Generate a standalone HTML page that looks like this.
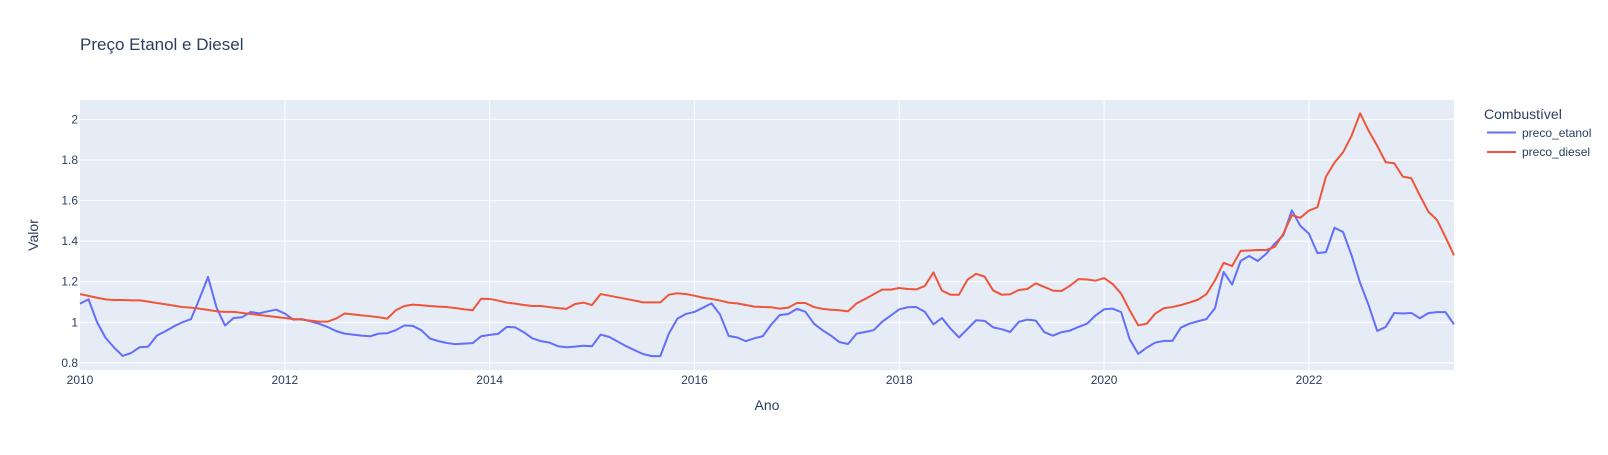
<!DOCTYPE html>
<html><head><meta charset="utf-8">
<style>
body{margin:0;background:#fff;font-family:"Liberation Sans",sans-serif;}
svg text{font-family:"Liberation Sans",sans-serif;fill:#2a3f5f;}
</style></head>
<body>
<svg id="chart" width="1608" height="450" xmlns="http://www.w3.org/2000/svg">
<rect width="1608" height="450" fill="#fff"/>
<text x="80" y="50" font-size="17">Preço Etanol e Diesel</text>
<rect x="80" y="100" width="1374" height="270" fill="#e5ecf6"/>
<g id="grid"></g>
<g id="series"></g>
<g id="ticks"></g>
<text x="767" y="410" font-size="14" text-anchor="middle">Ano</text>
<text transform="translate(38,235) rotate(-90)" font-size="14" text-anchor="middle">Valor</text>
<g>
<text x="1484" y="119" font-size="14">Combustível</text>
<g>
<line x1="1487" y1="132.5" x2="1516" y2="132.5" stroke="#636efa" stroke-width="2"/>
<text x="1522" y="137" font-size="12">preco_etanol</text></g>
<g>
<line x1="1487" y1="152" x2="1516" y2="152" stroke="#EF553B" stroke-width="2"/>
<text x="1522" y="156" font-size="12">preco_diesel</text></g>
</g>
</svg>
<script>
const startYear = 2010;
const xTickYears = [2010,2012,2014,2016,2018,2020,2022];
const yTicks = [0.8,1,1.2,1.4,1.6,1.8,2];
const yTickLabels = ["0.8","1","1.2","1.4","1.6","1.8","2"];
const etanol = [1.092,1.113,1.0,0.923,0.875,0.834,0.849,0.877,0.88,0.934,0.956,0.98,
1.0,1.015,1.116,1.223,1.072,0.984,1.021,1.025,1.051,1.044,1.054,1.062,
1.043,1.013,1.016,1.005,0.993,0.977,0.957,0.944,0.939,0.934,0.931,0.944,
0.946,0.961,0.984,0.982,0.961,0.92,0.907,0.898,0.892,0.895,0.897,0.931,
0.938,0.943,0.977,0.975,0.951,0.921,0.907,0.9,0.882,0.877,0.88,0.884,
0.882,0.939,0.928,0.905,0.882,0.862,0.843,0.833,0.833,0.944,1.018,1.041,
1.051,1.072,1.093,1.038,0.933,0.925,0.907,0.921,0.931,0.989,1.036,1.041,
1.066,1.052,0.993,0.961,0.934,0.902,0.893,0.944,0.952,0.961,1.003,1.033,
1.064,1.074,1.075,1.051,0.99,1.021,0.969,0.925,0.967,1.01,1.007,0.975,
0.966,0.952,1.002,1.013,1.008,0.951,0.934,0.951,0.959,0.977,0.993,1.034,
1.064,1.067,1.05,0.916,0.844,0.875,0.9,0.908,0.908,0.974,0.993,1.005,
1.016,1.07,1.248,1.186,1.302,1.327,1.302,1.338,1.388,1.429,1.552,1.475,
1.437,1.341,1.346,1.466,1.445,1.33,1.194,1.084,0.957,0.977,1.046,1.043,
1.046,1.02,1.045,1.05,1.05,0.99];
const diesel = [1.139,1.13,1.121,1.113,1.11,1.11,1.108,1.108,1.102,1.095,1.089,1.082,
1.075,1.072,1.067,1.061,1.054,1.051,1.051,1.046,1.041,1.036,1.031,1.026,
1.021,1.016,1.013,1.008,1.003,1.003,1.018,1.043,1.039,1.034,1.03,1.025,
1.018,1.059,1.08,1.087,1.084,1.08,1.077,1.075,1.07,1.064,1.059,1.116,
1.115,1.107,1.097,1.092,1.085,1.08,1.08,1.075,1.07,1.066,1.09,1.097,
1.085,1.139,1.131,1.123,1.115,1.107,1.098,1.098,1.098,1.136,1.143,1.139,
1.131,1.121,1.115,1.107,1.097,1.093,1.085,1.077,1.075,1.074,1.067,1.072,
1.095,1.095,1.075,1.066,1.062,1.059,1.054,1.093,1.115,1.138,1.161,1.161,
1.169,1.164,1.162,1.179,1.246,1.156,1.136,1.136,1.21,1.239,1.225,1.157,
1.136,1.138,1.159,1.164,1.192,1.174,1.156,1.154,1.18,1.213,1.211,1.205,
1.218,1.189,1.141,1.059,0.985,0.993,1.043,1.069,1.075,1.085,1.097,1.111,
1.139,1.207,1.293,1.277,1.352,1.354,1.356,1.356,1.372,1.436,1.528,1.515,
1.551,1.567,1.718,1.787,1.838,1.92,2.03,1.944,1.87,1.789,1.784,1.718,
1.71,1.625,1.545,1.505,1.42,1.33];

const NS="http://www.w3.org/2000/svg";
const X0=80,X1=1454,Y0=100,Y1=370,YMIN=0.7647,YMAX=2.0958;
const nMonths = Math.max(etanol.length, diesel.length) - 1;
function xMonth(m){return X0+(X1-X0)*m/nMonths;}
function xYear(y){return xMonth((y-startYear)*12);}
function yVal(v){return Y1-(v-YMIN)/(YMAX-YMIN)*(Y1-Y0);}
function mk(tag,attrs,parent){const e=document.createElementNS(NS,tag);for(const k in attrs)e.setAttribute(k,attrs[k]);parent.appendChild(e);return e;}

const grid=document.getElementById('grid'), ticks=document.getElementById('ticks'), series=document.getElementById('series');
yTicks.forEach((v,i)=>{
  const l=mk('line',{x1:X0,x2:X1,y1:yVal(v),y2:yVal(v),stroke:'#fff','stroke-width':1},grid);
  
  
  const t=mk('text',{x:X0-2,y:yVal(v)+4,'font-size':12,'text-anchor':'end'},ticks);
  t.textContent=yTickLabels[i];
  
  
});
xTickYears.forEach(y=>{
  const x=xYear(y);
  if(y>startYear){
    const l=mk('line',{x1:x,x2:x,y1:Y0,y2:Y1,stroke:'#fff','stroke-width':1},grid);
    
    
  }
  const t=mk('text',{x:x,y:384,'font-size':12,'text-anchor':'middle'},ticks);
  t.textContent=String(y);
  
  
});
function drawLine(vals,color,name){
  const pts=vals.map((v,i)=>xMonth(i).toFixed(2)+','+yVal(v).toFixed(2)).join(' ');
  const p=mk('polyline',{points:pts,fill:'none',stroke:color,'stroke-width':2,'stroke-linejoin':'round'},series);
  
  
}
drawLine(etanol,'#636efa','line-preco-etanol');
drawLine(diesel,'#EF553B','line-preco-diesel');
</script>
</body></html>
